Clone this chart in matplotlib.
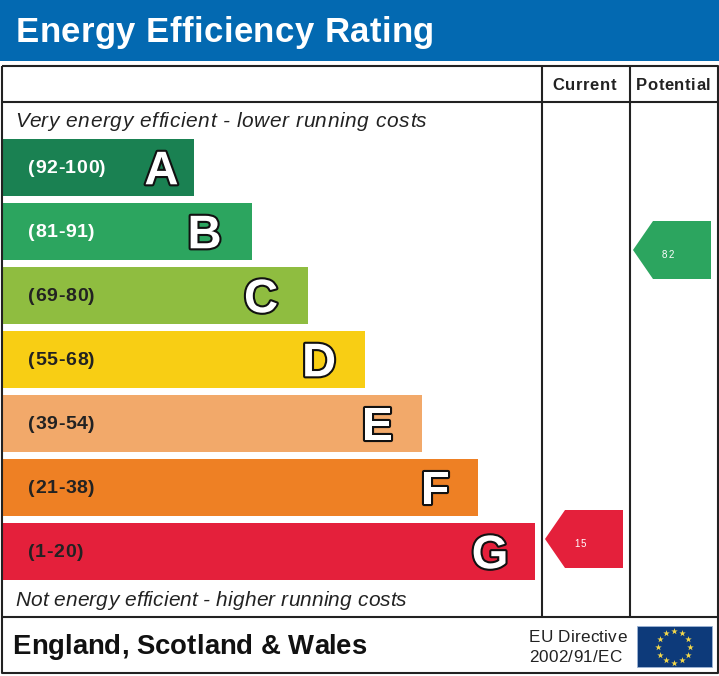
import matplotlib
matplotlib.use('Agg')
import numpy as np
import matplotlib.pyplot as plt
import matplotlib.patheffects as pe
from matplotlib.patches import Polygon, Rectangle

plt.rcParams['font.family'] = ['Liberation Sans', 'DejaVu Sans']

# bands, lengths read in pixels of the picture
letters = ['A', 'B', 'C', 'D', 'E', 'F', 'G']
ranges = ['(92-100)', '(81-91)', '(69-80)', '(55-68)', '(39-54)', '(21-38)', '(1-20)']
band_lengths = [191.5, 249.5, 306, 363, 419.5, 476, 533]
band_colors = ['#1a8152', '#2ca55f', '#8fbd40', '#f8ce14', '#f2a96a', '#ee8024', '#e4203b']
range_colors = ['white', 'white', '#222222', '#222222', '#222222', '#222222', '#222222']

current_rating = 15
potential_rating = 82


def spaced_text(ax, x, y, text, spacing, **kwargs):
    # matplotlib has no letter spacing, so step along one glyph at a time
    renderer = ax.figure.canvas.get_renderer()
    bar = ax.text(0, 0, '|', **kwargs)
    bar_w = bar.get_window_extent(renderer).width
    bar.remove()
    for i, ch in enumerate(text):
        probe = ax.text(0, 0, text[:i] + '|', **kwargs)
        w = probe.get_window_extent(renderer).width - bar_w
        probe.remove()
        ax.text(x + w + spacing * i, y, ch, ha='left', va='baseline', **kwargs)


def rating_arrow(ax, right, mid, value, color):
    half = 29
    pts = [(right, mid - half), (right - 58, mid - half), (right - 78, mid),
           (right - 58, mid + half), (right, mid + half)]
    ax.add_patch(Polygon(pts, closed=True, facecolor=color, edgecolor='none', zorder=3))
    spaced_text(ax, right - 49, mid + 8, str(value), 0.8, color='white', fontsize=7, zorder=4)


fig = plt.figure(figsize=(7.19, 6.76), dpi=100)
ax = fig.add_axes([0, 0, 1, 1])
ax.set_xlim(0, 719)
ax.set_ylim(676, 0)
ax.axis('off')

# header
ax.add_patch(Rectangle((0, 0), 719, 61, facecolor='#0369b1', edgecolor='none'))
spaced_text(ax, 15.5, 42, 'Energy Efficiency Rating', 0.4, color='white', fontsize=25, fontweight='bold')

# frame
line = dict(color='#222222', lw=1.5, zorder=5, solid_capstyle='butt')
ax.plot([1.5, 717.5, 717.5, 1.5, 1.5], [66, 66, 673, 673, 66], **line)
ax.plot([1.5, 717.5], [102, 102], **line)
ax.plot([1.5, 717.5], [617, 617], **line)
ax.plot([542, 542], [66, 617], **line)
ax.plot([630, 630], [66, 617], **line)

spaced_text(ax, 552, 90, 'Current', 0.7, color='#222222', fontsize=12, fontweight='bold')
spaced_text(ax, 636, 90, 'Potential', 0.55, color='#222222', fontsize=12, fontweight='bold')

spaced_text(ax, 15, 127, 'Very energy efficient - lower running costs', 0.55,
            color='#222222', fontsize=15, fontstyle='italic')
spaced_text(ax, 15, 606, 'Not energy efficient - higher running costs', 0.12,
            color='#222222', fontsize=15, fontstyle='italic')

# bands
y_pos = 167 + 64 * np.arange(len(letters)) + 0.3
ax.barh(y_pos, band_lengths, left=2, height=57.5, color=band_colors, zorder=2)
letter_gaps = [30, 45, 45, 44, 42, 41, 43]
for y, length, gap, letter, rng, rng_color in zip(y_pos, band_lengths, letter_gaps, letters, ranges, range_colors):
    spaced_text(ax, 28, y + 6, rng, 0.65, color=rng_color, fontsize=14, fontweight='bold', zorder=4)
    ax.text(length - gap, y + 17, letter, color='white', fontsize=34,
            fontweight='bold', ha='center', va='baseline', zorder=4,
            path_effects=[pe.withStroke(linewidth=3, foreground='#111111')])

# rating arrows
rating_arrow(ax, 623, 539, current_rating, band_colors[6])
rating_arrow(ax, 711, 250, potential_rating, band_colors[1])

# footer
spaced_text(ax, 12.5, 654, 'England, Scotland & Wales', 0, color='#111111', fontsize=19.8, fontweight='bold')
spaced_text(ax, 529, 642, 'EU Directive', 0.17, color='#222222', fontsize=12.3)
spaced_text(ax, 529, 662, '2002/91/EC', 0.3, color='#222222', fontsize=12.3)

# EU flag
ax.add_patch(Rectangle((637, 626), 75, 41, facecolor='#0d3a7a', edgecolor='#9db4d6', lw=0.6))
angles = np.deg2rad(np.arange(12) * 30)
ax.scatter(674 + 16 * np.sin(angles), 646.5 - 16 * np.cos(angles), marker='*', s=24,
           color='#f5d94a', linewidths=0, zorder=3)

fig.savefig('out.png', dpi=100)
